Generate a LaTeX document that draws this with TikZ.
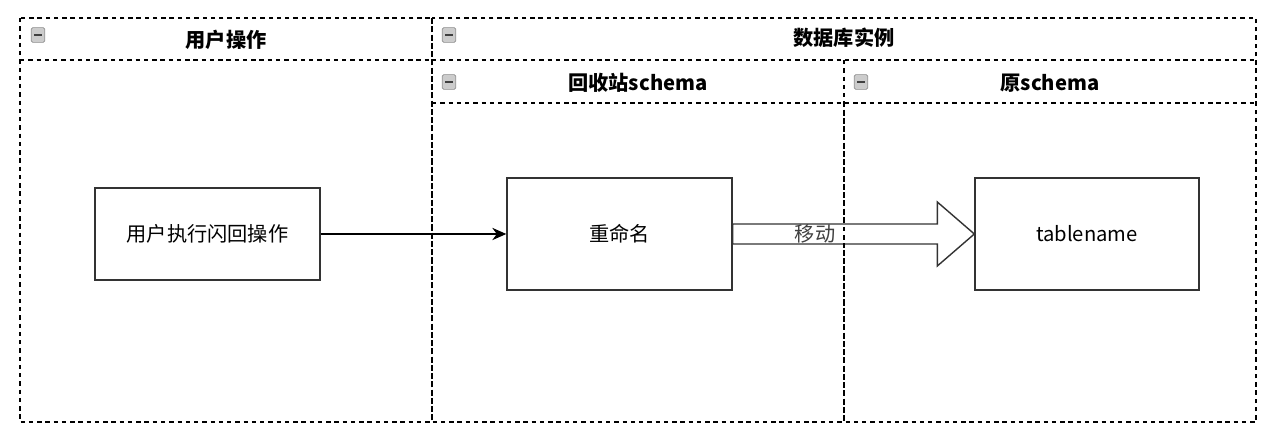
\documentclass[tikz,border=0pt]{standalone}
\usepackage{fontspec}
\setmainfont{Noto Sans CJK SC}
\usetikzlibrary{arrows.meta,positioning,calc}

\begin{document}
\begin{tikzpicture}[
    x=0.02cm, y=-0.02cm,
    lane/.style={draw=black, line width=0.6pt, dash pattern=on 2.5pt off 2.2pt},
    title/.style={font=\bfseries\fontsize{11.5}{13}\selectfont},
    box/.style={rectangle, draw=black!80, line width=0.8pt, font=\fontsize{11.5}{13}\selectfont},
    fold/.style={rectangle, rounded corners=0.8pt, draw=black!45, fill=black!20, minimum width=7.6pt, minimum height=8.4pt, inner sep=0pt,
        path picture={\draw[black!75, line width=1.2pt] ([xshift=1.6pt]path picture bounding box.west) -- ([xshift=-1.6pt]path picture bounding box.east);}},
    arrow/.style={-{Stealth[length=8pt, width=7pt]}, line width=0.8pt}
]
\useasboundingbox (0,0) rectangle (1280,445);

% Pools and lanes
\draw[lane] (20,18) rectangle (432,422);
\draw[lane] (20,60) -- (432,60);
\draw[lane] (432,18) rectangle (1256,422);
\draw[lane] (432,60) -- (1256,60);
\draw[lane] (432,103) -- (1256,103);
\draw[lane] (844,60) -- (844,422);

% Headers
\node[fold] (foldUser) at (38,35) {};
\node[title] (userOps) at (226,40) {用户操作};
\node[fold] (foldDb) at (449,35) {};
\node[title] (dbInst) at (844,38) {数据库实例};
\node[fold] (foldBin) at (449,82) {};
\node[title] (binSchema) at (638,83) {回收站schema};
\node[fold] (foldSrc) at (861,82) {};
\node[title] (srcSchema) at (1050,83) {原schema};

% Boxes
\node[box, minimum width=4.5cm, minimum height=1.84cm] (flashback) at (207.5,234) {用户执行闪回操作};
\node[box, minimum width=4.5cm, minimum height=2.24cm] (rename) at (619.5,234) {重命名};
\node[box, minimum width=4.48cm, minimum height=2.24cm] (tbl) at (1087,234) {tablename};

% Connectors
\draw[arrow] (flashback.east) -- (rename.west);
\draw[draw=black!80, line width=0.8pt, fill=white]
    ($(rename.east)+(0,-10)$) -- ($(tbl.west)+(-37,-10)$) -- ($(tbl.west)+(-37,-32)$)
    -- (tbl.west) -- ($(tbl.west)+(-37,32)$) -- ($(tbl.west)+(-37,10)$)
    -- ($(rename.east)+(0,10)$) -- cycle;
\draw[lane] (844,103) -- (844,422);
\node[font=\fontsize{11.5}{13}\selectfont, text=black!75] (move) at (815,234) {移动};

\end{tikzpicture}
\end{document}
